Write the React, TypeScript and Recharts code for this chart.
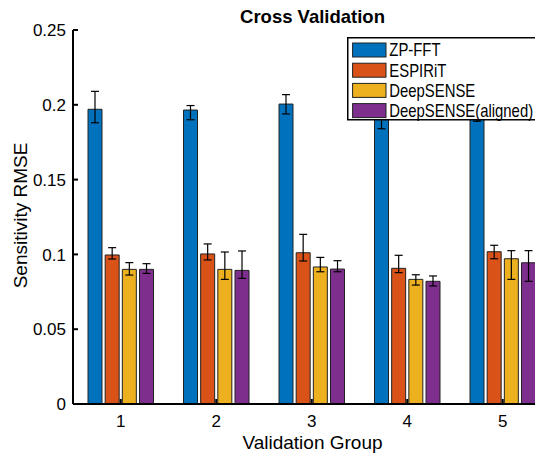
import React from 'react';
import { BarChart, Bar, XAxis, YAxis, ErrorBar, Legend } from 'recharts';

const FONT = '"Liberation Sans", Arial, Helvetica, sans-serif';

const groups = ['1', '2', '3', '4', '5'];
const seriesNames = ['ZP-FFT', 'ESPIRiT', 'DeepSENSE', 'DeepSENSE(aligned)'];
const seriesColors = ['#0072BD', '#D95319', '#EDB120', '#7E2F8E'];

const zpFft = [0.197, 0.1965, 0.2005, 0.192, 0.195];
const zpFftErr = [[0.009, 0.012], [0.0065, 0.003], [0.0066, 0.0063], [0.008, 0.008], [0.006, 0.006]];
const espirit = [0.0996, 0.1003, 0.1011, 0.0907, 0.1018];
const espiritErr = [[0.0027, 0.0049], [0.004, 0.0067], [0.0055, 0.0123], [0.0029, 0.0087], [0.0047, 0.0043]];
const deepSense = [0.09, 0.09, 0.0916, 0.0833, 0.0971];
const deepSenseErr = [[0.0038, 0.0045], [0.0067, 0.0116], [0.0032, 0.0064], [0.0038, 0.0031], [0.0138, 0.0054]];
const deepSenseAligned = [0.09, 0.0893, 0.0902, 0.082, 0.0944];
const deepSenseAlignedErr = [[0.0027, 0.0038], [0.0053, 0.013], [0.0018, 0.0056], [0.0031, 0.0036], [0.0124, 0.0081]];

const yTicks = [0, 0.05, 0.1, 0.15, 0.2, 0.25];
const yTickLabels = ['0', '0.05', '0.1', '0.15', '0.2', '0.25'];

const title = 'Cross Validation';
const xLabel = 'Validation Group';
const yLabel = 'Sensitivity RMSE';

const seriesValues = [zpFft, espirit, deepSense, deepSenseAligned];
const seriesErrors = [zpFftErr, espiritErr, deepSenseErr, deepSenseAlignedErr];
const keys = ['s0', 's1', 's2', 's3'];

const data = groups.map((g, i) => {
  const row: any = { group: g };
  keys.forEach((k, j) => {
    row[k] = seriesValues[j][i];
    row[k + 'Err'] = seriesErrors[j][i];
  });
  return row;
});

const YTick = (props: any) => {
  const { x, y, payload } = props;
  const idx = yTicks.indexOf(payload.value);
  return (
    <g>
      <line x1={x + 8} x2={x + 13} y1={y} y2={y} stroke="#000" strokeWidth={2} />
      <text x={x + 1} y={y} dy="0.36em" textAnchor="end" fontSize={17} fontFamily={FONT} fill="#000">
        {idx >= 0 ? yTickLabels[idx] : String(payload.value)}
      </text>
    </g>
  );
};

const XTick = (props: any) => {
  const { x, y, payload } = props;
  return (
    <g>
      <line x1={x} x2={x} y1={y - 8} y2={y - 13} stroke="#000" strokeWidth={2} />
      <text x={x} y={y + 15} textAnchor="middle" fontSize={17} fontFamily={FONT} fill="#000">
        {payload.value}
      </text>
    </g>
  );
};

const renderLegend = () => (
  <svg width={190} height={84} style={{ display: 'block' }}>
    <rect x={0.75} y={0.75} width={188.5} height={82} fill="#fff" stroke="#000" strokeWidth={1.5} />
    {seriesNames.map((n, i) => (
      <g key={n}>
        <rect x={5.6} y={6 + i * 20.2} width={33.4} height={14} fill={seriesColors[i]} stroke="#222" strokeWidth={1} />
        <text
          transform={`translate(42.3, ${6 + i * 20.2 + 13.4}) scale(0.85,1)`}
          fontSize={17.5}
          fontFamily={FONT}
          fill="#000"
        >
          {n}
        </text>
      </g>
    ))}
  </svg>
);

export default function App() {
  return (
    <div style={{ margin: '-8px 0 0 -8px', width: 543, height: 457, overflow: 'hidden', position: 'relative' }}>
      <BarChart
        width={568}
        height={457}
        data={data}
        margin={{ top: 30, right: 17.5, bottom: 0, left: 8 }}
        barGap={3.17}
        barSize={14}
      >
        <XAxis
          dataKey="group"
          axisLine={{ stroke: '#000', strokeWidth: 2 }}
          tickLine={false}
          tick={XTick}
          height={53}
          interval={0}
        />
        <YAxis
          domain={[0, 0.25]}
          ticks={yTicks}
          width={65}
          axisLine={{ stroke: '#000', strokeWidth: 2 }}
          tickLine={false}
          tick={YTick}
          interval={0}
        />
        {keys.map((k, j) => (
          <Bar
            key={k}
            dataKey={k}
            name={seriesNames[j]}
            fill={seriesColors[j]}
            stroke="#222"
            strokeWidth={1}
            isAnimationActive={false}
          >
            <ErrorBar dataKey={k + 'Err'} width={4} stroke="#000" strokeWidth={1.2} direction="y" isAnimationActive={false} />
          </Bar>
        ))}
        <Legend
          layout="horizontal"
          verticalAlign="middle"
          align="center"
          content={renderLegend}
          wrapperStyle={{ left: 346.7, top: 37.3, width: 190, height: 84 }}
        />
        <text x={312.5} y={23} textAnchor="middle" fontWeight="bold" fontSize={18.5} fontFamily={FONT} fill="#000">
          {title}
        </text>
        <text x={312.5} y={449} textAnchor="middle" fontSize={19} fontFamily={FONT} fill="#000">
          {xLabel}
        </text>
        <text transform="translate(27,215.5) rotate(-90)" textAnchor="middle" fontSize={19} fontFamily={FONT} fill="#000">
          {yLabel}
        </text>
      </BarChart>
    </div>
  );
}
